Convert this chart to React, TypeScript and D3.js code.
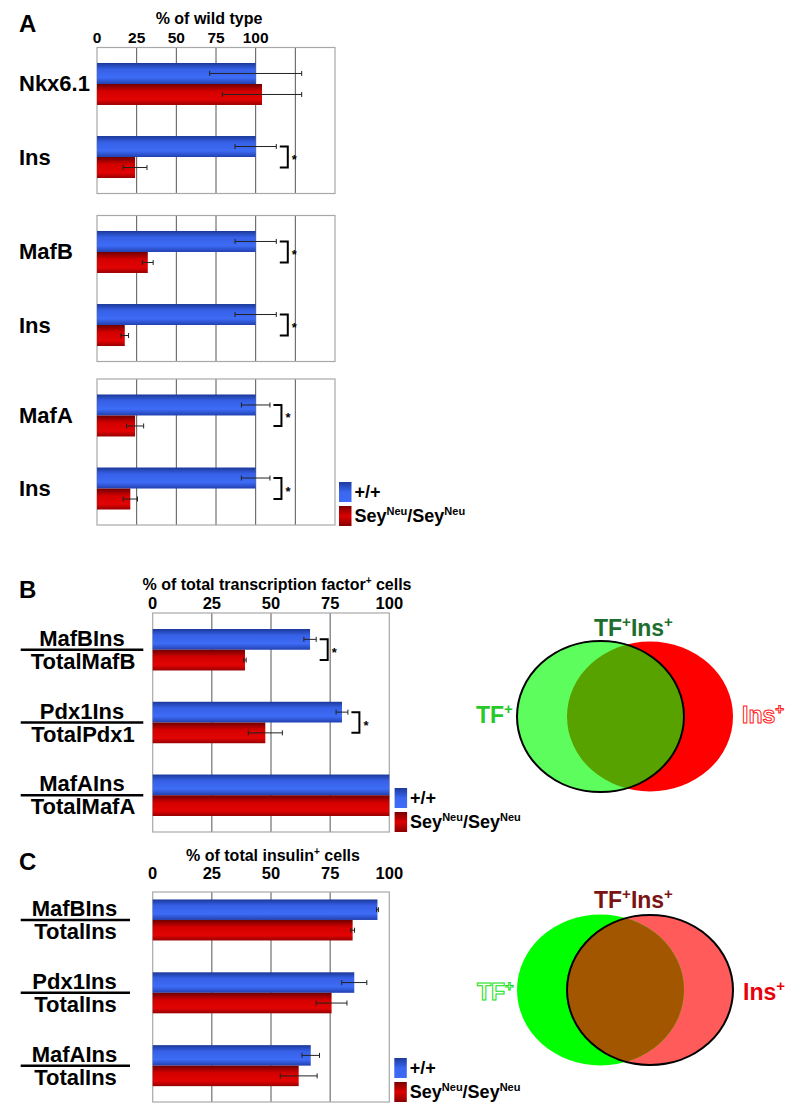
import React from 'react';
import * as d3 from 'd3';

const FONT = '"Liberation Sans", Arial, Helvetica, sans-serif';

// Panel A: % of wild type
const aLabels = ['Nkx6.1', 'Ins', 'MafB', 'Ins', 'MafA', 'Ins'];
const aWild = [100, 100, 100, 100, 100, 100];
const aWildErr = [29, 13, 13, 13, 9, 9];
const aSey = [104, 24, 32, 17.5, 24, 21];
const aSeyErr = [25, 7.5, 3.4, 2.4, 5.4, 4.5];
const aStar = [false, true, true, true, true, true];
const aTicks = [0, 25, 50, 75, 100];
const aGrid = [25, 50, 75, 100, 125];

// Panel B: % of total transcription factor+ cells
const bNum = ['MafBIns', 'Pdx1Ins', 'MafAIns'];
const bDen = ['TotalMafB', 'TotalPdx1', 'TotalMafA'];
const bWild = [66.5, 80, 100];
const bWildErr = [2.6, 2.5, 0];
const bSey = [39, 47.6, 100];
const bSeyErr = [0.5, 7.2, 0];
const bStar = [true, true, false];

// Panel C: % of total insulin+ cells
const cNum = ['MafBIns', 'Pdx1Ins', 'MafAIns'];
const cDen = ['TotalIns', 'TotalIns', 'TotalIns'];
const cWild = [95, 85.2, 66.8];
const cWildErr = [0.4, 5.3, 3.7];
const cSey = [84.5, 75.6, 61.7];
const cSeyErr = [0.8, 6.5, 7.8];
const cStar = [false, false, false];

const bcTicks = [0, 25, 50, 75, 100];
const bcGrid = [25, 50, 75];

type X = d3.ScaleLinear<number, number>;

const ErrBar = ({ x, y, v, e }: { x: X; y: number; v: number; e: number }) => {
  if (!e) return null;
  const x1 = x(v - e), x2 = x(v + e);
  return (
    <g stroke="#222" strokeWidth={1}>
      <line x1={x1} x2={x2} y1={y} y2={y} />
      <line x1={x1} x2={x1} y1={y - 2.5} y2={y + 2.5} />
      <line x1={x2} x2={x2} y1={y - 2.5} y2={y + 2.5} />
    </g>
  );
};

const Group = ({ x, y0, bw, wild, wErr, sey, sErr, star }: any) => {
  const h = bw / 2;
  const yb = y0 + h / 2, yr = y0 + h * 1.5;
  const bx = x(Math.max(wild + wErr, sey + sErr)) + 3.5;
  return (
    <g>
      <rect x={x(0)} y={y0} width={x(wild) - x(0)} height={h} fill="url(#gBlue)" />
      <rect x={x(0)} y={y0 + h} width={x(sey) - x(0)} height={h} fill="url(#gRed)" />
      <ErrBar x={x} y={yb} v={wild} e={wErr} />
      <ErrBar x={x} y={yr} v={sey} e={sErr} />
      {star && (
        <g>
          <path d={`M${bx},${yb}H${bx + 8}V${yr}H${bx}`} fill="none" stroke="#000" strokeWidth={2} />
          <text x={bx + 12} y={(yb + yr) / 2 + 7} fontSize={13} fontWeight="bold" fontFamily={FONT}>*</text>
        </g>
      )}
    </g>
  );
};

const Frame = ({ x, top, height, grid, max }: { x: X; top: number; height: number; grid: number[]; max: number }) => (
  <g>
    {grid.map((g) => (
      <line key={g} x1={x(g)} x2={x(g)} y1={top} y2={top + height} stroke="#555" strokeWidth={1} />
    ))}
    <rect x={x(0)} y={top} width={x(max) - x(0)} height={height} fill="none" stroke="#a8a8a8" strokeWidth={1.2} />
  </g>
);

const Legend = ({ x, y }: { x: number; y: number }) => (
  <g fontFamily={FONT} fontWeight="bold">
    <rect x={x} y={y} width={12.5} height={20} fill="url(#gBlueL)" />
    <rect x={x} y={y + 24} width={12.5} height={20} fill="url(#gRedL)" />
    <text x={x + 15.5} y={y + 15.5} fontSize={18}>+/+</text>
    <text x={x + 15.5} y={y + 40} fontSize={18}>
      Sey<tspan fontSize={11} dy={-7}>Neu</tspan>
      <tspan dy={7}>/Sey</tspan>
      <tspan fontSize={11} dy={-7}>Neu</tspan>
    </text>
  </g>
);

const Ticks = ({ x, ticks, y, size }: { x: X; ticks: number[]; y: number; size: number }) => (
  <g fontFamily={FONT} fontWeight="bold" fontSize={size} textAnchor="middle">
    {ticks.map((t) => (
      <text key={t} x={x(t)} y={y}>{t}</text>
    ))}
  </g>
);

const Fraction = ({ cx, cy, num, den, x1, x2 }: any) => (
  <g fontFamily={FONT} fontWeight="bold" fontSize={22} textAnchor="middle">
    <text x={cx} y={cy - 4}>{num}</text>
    <line x1={x1} x2={x2} y1={cy} y2={cy} stroke="#000" strokeWidth={2.5} />
    <text x={cx + 1} y={cy + 19}>{den}</text>
  </g>
);

const VennLabel = ({ x, y, fill, stroke, parts }: any) => (
  <text x={x} y={y} fontFamily={FONT} fontWeight="bold" fontSize={23} fill={fill} stroke={stroke} strokeWidth={stroke ? 1 : 0}>
    {parts.map((p: string, i: number) =>
      p === '+' ? (
        <tspan key={i} fontSize={15} dy={-9}>+</tspan>
      ) : (
        <tspan key={i} dy={i > 0 ? 9 : 0}>{p}</tspan>
      )
    )}
  </text>
);

const Venn = ({ cy, variant }: { cy: number; variant: 'B' | 'C' }) => {
  const green = { cx: 600.5, cy, rx: 83.5, ry: 75.5 };
  const red = { cx: 650, cy, rx: 83, ry: 75 };
  const isB = variant === 'B';
  const id = `clipRed${variant}`;
  return (
    <g>
      <defs>
        <clipPath id={id}>
          <ellipse {...red} />
        </clipPath>
      </defs>
      <ellipse {...red} fill={isB ? '#ff0000' : '#ff5b5b'} />
      <ellipse {...green} fill={isB ? '#5dfd5d' : '#00ff00'} />
      <ellipse {...green} fill={isB ? '#58a200' : '#a35600'} clipPath={`url(#${id})`} />
      {isB ? (
        <ellipse {...green} fill="none" stroke="#000" strokeWidth={2} />
      ) : (
        <ellipse {...red} fill="none" stroke="#000" strokeWidth={2} />
      )}
    </g>
  );
};

export default function App() {
  const xA = d3.scaleLinear().domain([0, 150]).range([97, 335]);
  const xB = d3.scaleLinear().domain([0, 100]).range([152.7, 389.3]);

  const aFrameTops = [47.5, 215.5, 379];
  const aFrameH = 146;

  const yB = d3.scaleBand<number>().domain([0, 1, 2]).range([613, 832]).paddingInner(0.43).paddingOuter(0.22);
  const yC = d3.scaleBand<number>().domain([0, 1, 2]).range([892, 1102]).paddingInner(0.437).paddingOuter(0.16).align(0.32);

  return (
    <div style={{ position: 'absolute', left: 0, top: 0 }}>
      <svg width={800} height={1118} viewBox="0 0 800 1118" style={{ display: 'block', background: '#fff' }}>
        <defs>
          <linearGradient id="gBlue" x1="0" y1="0" x2="0" y2="1">
            <stop offset="0%" stopColor="#1b3899" />
            <stop offset="30%" stopColor="#3660e6" />
            <stop offset="70%" stopColor="#3e6cf6" />
            <stop offset="100%" stopColor="#2140b0" />
          </linearGradient>
          <linearGradient id="gRed" x1="0" y1="0" x2="0" y2="1">
            <stop offset="0%" stopColor="#6e0000" />
            <stop offset="35%" stopColor="#d40000" />
            <stop offset="75%" stopColor="#e20404" />
            <stop offset="100%" stopColor="#980000" />
          </linearGradient>
          <linearGradient id="gBlueL" x1="0" y1="0" x2="0" y2="1">
            <stop offset="0%" stopColor="#1c3a9c" />
            <stop offset="50%" stopColor="#3a66f0" />
            <stop offset="100%" stopColor="#3e6cf6" />
          </linearGradient>
          <linearGradient id="gRedL" x1="0" y1="0" x2="0" y2="1">
            <stop offset="0%" stopColor="#7a0000" />
            <stop offset="50%" stopColor="#dc0000" />
            <stop offset="100%" stopColor="#8a0000" />
          </linearGradient>
        </defs>

        {/* Panel A */}
        <text x={19} y={32} fontFamily={FONT} fontWeight="bold" fontSize={24}>A</text>
        <text x={209} y={24} fontFamily={FONT} fontWeight="bold" fontSize={16} textAnchor="middle">% of wild type</text>
        <Ticks x={xA} ticks={aTicks} y={42.5} size={15.5} />
        {aFrameTops.map((top, f) => {
          const y = d3.scaleBand<number>().domain([0, 1]).range([top, top + aFrameH]).paddingInner(0.425).paddingOuter(0.212);
          return (
            <g key={f}>
              <Frame x={xA} top={top} height={aFrameH} grid={aGrid} max={150} />
              {[0, 1].map((j) => {
                const i = f * 2 + j;
                const y0 = y(j)!;
                return (
                  <g key={j}>
                    <Group x={xA} y0={y0} bw={y.bandwidth()} wild={aWild[i]} wErr={aWildErr[i]} sey={aSey[i]} sErr={aSeyErr[i]} star={aStar[i]} />
                    <text x={19} y={y0 + y.bandwidth() / 2 + 7.5} fontFamily={FONT} fontWeight="bold" fontSize={22}>{aLabels[i]}</text>
                  </g>
                );
              })}
            </g>
          );
        })}
        <Legend x={339} y={482} />

        {/* Panel B */}
        <text x={19} y={598} fontFamily={FONT} fontWeight="bold" fontSize={24}>B</text>
        <text x={277} y={590} fontFamily={FONT} fontWeight="bold" fontSize={16} textAnchor="middle">
          % of total transcription factor<tspan fontSize={10} dy={-6}>+</tspan>
          <tspan dy={6}> cells</tspan>
        </text>
        <Ticks x={xB} ticks={bcTicks} y={609} size={16.5} />
        <Frame x={xB} top={613} height={219} grid={bcGrid} max={100} />
        {bNum.map((n, i) => {
          const y0 = yB(i)!;
          return (
            <g key={i}>
              <Group x={xB} y0={y0} bw={yB.bandwidth()} wild={bWild[i]} wErr={bWildErr[i]} sey={bSey[i]} sErr={bSeyErr[i]} star={bStar[i]} />
              <Fraction cx={82} cy={y0 + yB.bandwidth() / 2} num={n} den={bDen[i]} x1={20.7} x2={143.3} />
            </g>
          );
        })}
        <Legend x={394.6} y={788} />
        <Venn cy={716.5} variant="B" />
        <VennLabel x={594} y={636} fill="#1e6e2e" parts={['TF', '+', 'Ins', '+']} />
        <VennLabel x={476} y={722.5} fill="#28c828" parts={['TF', '+']} />
        <VennLabel x={742} y={722.5} fill="#fff" stroke="#ff2020" parts={['Ins', '+']} />

        {/* Panel C */}
        <text x={19} y={870} fontFamily={FONT} fontWeight="bold" fontSize={24}>C</text>
        <text x={273} y={860.5} fontFamily={FONT} fontWeight="bold" fontSize={16} textAnchor="middle">
          % of total insulin<tspan fontSize={10} dy={-6}>+</tspan>
          <tspan dy={6}> cells</tspan>
        </text>
        <Ticks x={xB} ticks={bcTicks} y={879} size={16.5} />
        <Frame x={xB} top={892} height={210} grid={bcGrid} max={100} />
        {cNum.map((n, i) => {
          const y0 = yC(i)!;
          return (
            <g key={i}>
              <Group x={xB} y0={y0} bw={yC.bandwidth()} wild={cWild[i]} wErr={cWildErr[i]} sey={cSey[i]} sErr={cSeyErr[i]} star={cStar[i]} />
              <Fraction cx={74.5} cy={y0 + yC.bandwidth() / 2} num={n} den={cDen[i]} x1={20.7} x2={130} />
            </g>
          );
        })}
        <Legend x={394.3} y={1058} />
        <Venn cy={990} variant="C" />
        <VennLabel x={594} y={908} fill="#7a1414" parts={['TF', '+', 'Ins', '+']} />
        <VennLabel x={477} y={1000} fill="#fff" stroke="#10e010" parts={['TF', '+']} />
        <VennLabel x={743} y={1000} fill="#e8000a" parts={['Ins', '+']} />
      </svg>
    </div>
  );
}
